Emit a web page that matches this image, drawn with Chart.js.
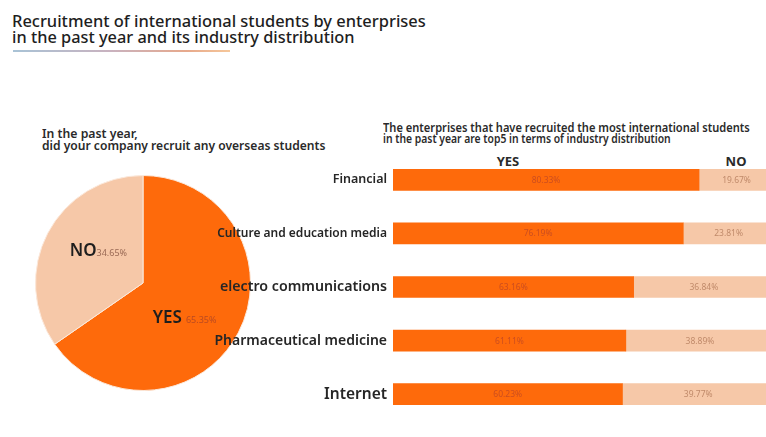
<!DOCTYPE html>
<html>
<head>
<meta charset="utf-8">
<script src="https://cdn.jsdelivr.net/npm/chart.js@4.4.1/dist/chart.umd.min.js"></script>
<style>
  html, body { margin: 0; padding: 0; background: #fff; }
  body { width: 766px; height: 437px; position: relative; overflow: hidden;
         font-family: 'Noto Sans', sans-serif; color: #222; }
  .t { position: absolute; white-space: nowrap; transform-origin: 0 0; }
  .title { font-size: 17px; font-weight: 500; line-height: 17px; left: 12px; color: #1e1e1e; }
  .sub { font-size: 12px; font-weight: 600; line-height: 12px; color: #2a2a2a; }
  .head { font-size: 13px; font-weight: 700; line-height: 13px; color: #2a2a2a; transform: translateX(-50%); }
  #rule { position: absolute; left: 13px; top: 50px; width: 217px; height: 2px;
          background: linear-gradient(90deg, #a9c3d6 0%, #c9b2bf 45%, #e7a98c 80%, #f6c79a 100%); }
  canvas { position: absolute; }
  #pie { left: 35px; top: 175px; }
  #bars { left: 200px; top: 153px; }
</style>
</head>
<body>
<div class="t title" style="top:12px" data-w="414">Recruitment of international students by enterprises</div>
<div class="t title" style="top:28px" data-w="343">in the past year and its industry distribution</div>
<div id="rule"></div>

<div class="t sub" style="left:42px;top:128px" data-w="96">In the past year,</div>
<div class="t sub" style="left:42px;top:140px" data-w="283">did your company recruit any overseas students</div>

<div class="t sub" style="left:383px;top:122px" data-w="367">The enterprises that have recruited the most international students</div>
<div class="t sub" style="left:383px;top:133px" data-w="288">in the past year are top5 in terms of industry distribution</div>
<div class="t head" style="left:508px;top:155px">YES</div>
<div class="t head" style="left:736px;top:155px">NO</div>

<canvas id="pie" width="216" height="216"></canvas>
<canvas id="bars" width="574" height="268"></canvas>

<script>
// Overall answer: did the company recruit overseas students last year
const answerLabels = ['YES', 'NO'];
const answerShares = [65.35, 34.65];

// Top 5 industries by recruiting enterprises
const industries = ['Financial', 'Culture and education media', 'electro communications',
                    'Pharmaceutical medicine', 'Internet'];
const industryYes = [80.33, 76.19, 63.16, 61.11, 60.23];
const industryNo  = [19.67, 23.81, 36.84, 38.89, 39.77];

const ORANGE = '#fe6a0b';
const PEACH = '#f6c8a8';
const FONT = "'Noto Sans', sans-serif";

// stretch or squeeze each heading line to its set width
document.querySelectorAll('[data-w]').forEach(el => {
  el.style.transform = 'scaleX(' + (+el.dataset.w / el.offsetWidth) + ')';
});

const pct = v => v.toFixed(2) + '%';

// Category name in big type followed by the share in small type, near the slice middle
const pieLabels = {
  id: 'pieLabels',
  afterDatasetsDraw(chart, args, opts) {
    const ctx = chart.ctx;
    const arcs = chart.getDatasetMeta(0).data;
    arcs.forEach((arc, i) => {
      const mid = (arc.startAngle + arc.endAngle) / 2;
      const r = arc.outerRadius * 0.5;
      const nudge = opts.nudge[i] || [0, 0];
      const cx = arc.x + Math.cos(mid) * r + nudge[0];
      const base = arc.y + Math.sin(mid) * r + nudge[1];
      const name = chart.data.labels[i];
      const val = pct(chart.data.datasets[0].data[i]);
      ctx.save();
      ctx.textBaseline = 'alphabetic';
      ctx.textAlign = 'left';
      ctx.font = '600 17px ' + FONT;
      const w1 = ctx.measureText(name).width;
      ctx.font = '9px ' + FONT;
      const w2 = ctx.measureText(val).width;
      const gap = i === 0 ? 4 : 0;
      const x = cx - (w1 + gap + w2) / 2;
      ctx.font = '600 17px ' + FONT;
      ctx.fillStyle = '#1e1e1e';
      ctx.fillText(name, x, base);
      ctx.font = '9px ' + FONT;
      ctx.fillStyle = opts.valueColors[i];
      ctx.fillText(val, x + w1 + gap, base);
      ctx.restore();
    });
  }
};

new Chart(document.getElementById('pie'), {
  type: 'pie',
  data: {
    labels: answerLabels,
    datasets: [{
      data: answerShares,
      backgroundColor: [ORANGE, PEACH],
      borderColor: '#fbe9dc',
      borderWidth: 1
    }]
  },
  options: {
    responsive: false,
    animation: false,
    layout: { padding: 0 },
    plugins: {
      legend: { display: false },
      tooltip: { enabled: false },
      pieLabels: { nudge: [[-6, 15], [3, -2]], valueColors: ['#b94a22', '#9a6a55'] }
    }
  },
  plugins: [pieLabels]
});

// Share printed in the middle of every bar segment
const segmentLabels = {
  id: 'segmentLabels',
  afterDatasetsDraw(chart, args, opts) {
    const ctx = chart.ctx;
    ctx.save();
    ctx.font = '8.5px ' + FONT;
    ctx.textAlign = 'center';
    ctx.textBaseline = 'middle';
    chart.data.datasets.forEach((ds, di) => {
      chart.getDatasetMeta(di).data.forEach((bar, i) => {
        const c = bar.getCenterPoint();
        ctx.fillStyle = opts.colors[di];
        ctx.fillText(pct(ds.data[i]), c.x, c.y + 0.5);
      });
    });
    ctx.restore();
  }
};

const labelSizes = [12.5, 12, 14.2, 14, 15.5];

new Chart(document.getElementById('bars'), {
  type: 'bar',
  data: {
    labels: industries,
    datasets: [
      { label: 'YES', data: industryYes, backgroundColor: ORANGE },
      { label: 'NO', data: industryNo, backgroundColor: PEACH }
    ]
  },
  options: {
    indexAxis: 'y',
    responsive: false,
    animation: false,
    layout: { padding: 0 },
    datasets: { bar: { barThickness: 21, borderWidth: 0 } },
    scales: {
      x: { stacked: true, min: 0, max: 100, display: false },
      y: {
        stacked: true,
        grid: { display: false, drawTicks: false },
        border: { display: false },
        // fixed label column; rows use the full canvas height
        afterFit(scale) {
          scale.width = 193;
          scale.paddingTop = 0;
          scale.paddingBottom = 0;
        },
        ticks: {
          autoSkip: false,
          padding: 6,
          color: '#262626',
          font: ctx => ({ family: FONT, size: labelSizes[ctx.index], weight: '600' })
        }
      }
    },
    plugins: {
      legend: { display: false },
      tooltip: { enabled: false },
      segmentLabels: { colors: ['#cc4e1f', '#c08a6a'] }
    }
  },
  plugins: [segmentLabels]
});
</script>
</body>
</html>
